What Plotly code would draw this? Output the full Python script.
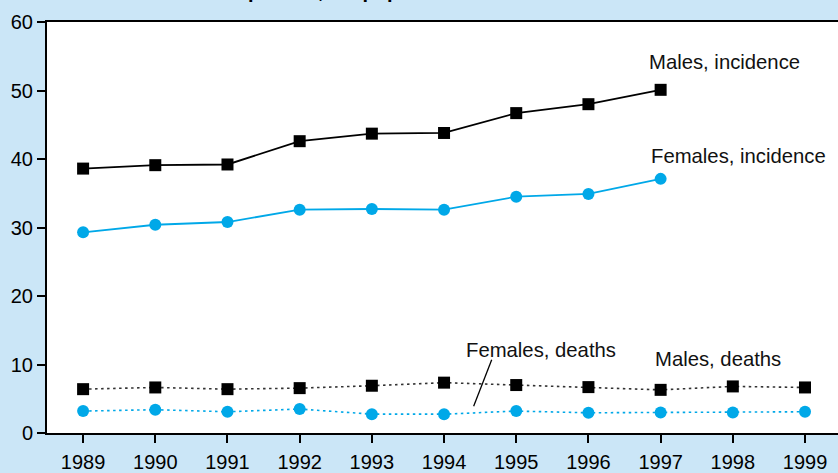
import plotly.graph_objects as go

# Rates per 100,000 population, by sex
years = [1989, 1990, 1991, 1992, 1993, 1994, 1995, 1996, 1997, 1998, 1999]
inc_years = years[:9]

males_incidence = [38.6, 39.1, 39.2, 42.6, 43.7, 43.8, 46.7, 48.0, 50.1]
females_incidence = [29.3, 30.4, 30.8, 32.6, 32.7, 32.6, 34.5, 34.9, 37.1]
males_deaths = [6.4, 6.65, 6.4, 6.55, 6.9, 7.35, 7.0, 6.7, 6.3, 6.8, 6.65]
females_deaths = [3.2, 3.4, 3.1, 3.5, 2.75, 2.75, 3.2, 2.95, 3.0, 3.0, 3.1]

BLUE = "#00a8e8"
BLACK = "#000000"
BG = "#cbe6f7"
FONT = "Liberation Sans, Arial, sans-serif"

fig = go.Figure()

fig.add_trace(go.Scatter(
    x=inc_years, y=males_incidence, mode="lines+markers",
    line=dict(color=BLACK, width=1.8),
    marker=dict(symbol="square", size=12, color=BLACK),
))
fig.add_trace(go.Scatter(
    x=inc_years, y=females_incidence, mode="lines+markers",
    line=dict(color=BLUE, width=1.8),
    marker=dict(symbol="circle", size=12, color=BLUE),
))
fig.add_trace(go.Scatter(
    x=years, y=males_deaths, mode="lines+markers",
    line=dict(color="#333333", width=1.6, dash="2.5px,3.5px"),
    marker=dict(symbol="square", size=12, color=BLACK),
))
fig.add_trace(go.Scatter(
    x=years, y=females_deaths, mode="lines+markers",
    line=dict(color=BLUE, width=1.6, dash="2.5px,3.5px"),
    marker=dict(symbol="circle", size=12, color=BLUE),
))

label_font = dict(family=FONT, size=20.3, color="#111111")
labels = [
    ("Males, incidence", 1996.81, 54.2),
    ("Females, incidence", 1996.84, 40.5),
    ("Females, deaths", 1994.28, 12.07),
    ("Males, deaths", 1996.89, 10.84),
]
annotations = [
    dict(text=t, x=x, y=y, xref="x", yref="y", xanchor="left", yanchor="middle",
         showarrow=False, font=label_font)
    for t, x, y in labels
]
# title, mostly above the top of the page
annotations.append(dict(
    text="<b>Rates per 100,000 population</b>", xref="paper", yref="paper",
    x=0.1757, y=1.0434, xanchor="left", yanchor="bottom", showarrow=False,
    font=dict(family=FONT, size=20, color=BLACK),
))

fig.update_layout(
    width=838, height=473,
    margin=dict(l=47, r=0, t=22, b=36, pad=0),
    paper_bgcolor=BG, plot_bgcolor="#ffffff",
    showlegend=False,
    font=dict(family=FONT, size=20, color=BLACK),
    annotations=annotations,
    shapes=[dict(type="line", xref="x", yref="y",
                 x0=1994.66, y0=10.7, x1=1994.41, y1=3.9,
                 line=dict(color=BLACK, width=1.3))],
)
fig.update_xaxes(
    range=[1988.5, 1999.457], tickvals=years, ticktext=[str(y) for y in years],
    showgrid=False, zeroline=False, showline=True, linecolor=BLACK, linewidth=2,
    mirror=True, ticks="outside", ticklen=8, tickwidth=1.5, tickcolor=BLACK,
    ticklabelstandoff=2,
    tickfont=dict(family=FONT, size=20, color=BLACK),
)
fig.update_yaxes(
    range=[0, 60], tickvals=[0, 10, 20, 30, 40, 50, 60],
    showgrid=False, zeroline=False, showline=True, linecolor=BLACK, linewidth=2,
    ticks="outside", ticklen=8, tickwidth=1.5, tickcolor=BLACK,
    tickfont=dict(family=FONT, size=20, color=BLACK),
)

fig.write_html("out.html")
